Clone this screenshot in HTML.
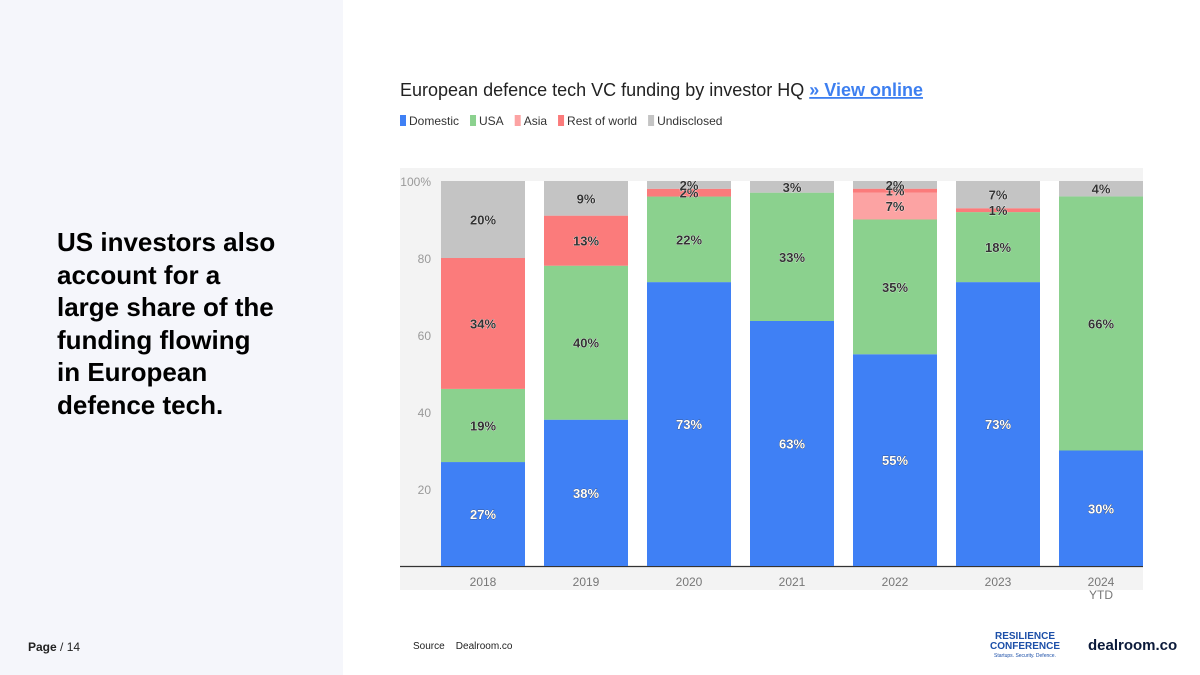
<!DOCTYPE html>
<html><head><meta charset="utf-8"><style>
body{margin:0;width:1200px;height:675px;position:relative;font-family:"Liberation Sans",sans-serif;background:#fff;overflow:hidden}
.left{position:absolute;left:0;top:0;width:343px;height:675px;background:#f5f6fb}
h1{position:absolute;left:57px;top:226px;margin:0;font-size:26px;line-height:32.5px;font-weight:bold;color:#000;white-space:nowrap}
.pg{position:absolute;left:28px;top:640px;font-size:12px;color:#222}
.src{position:absolute;left:413px;top:641px;font-size:10px;color:#222}
</style></head><body>
<div class="left"></div>
<h1>US investors also<br>account for a<br>large share of the<br>funding flowing<br>in European<br>defence tech.</h1>
<div class="pg"><b>Page</b> / 14</div>
<div class="src">Source &nbsp;&nbsp;&nbsp;Dealroom.co</div>
<div style="position:absolute;left:987px;top:632px;width:76px;color:#1c4fa8;font-weight:bold;font-size:10px;line-height:10px;text-align:center">RESILIENCE<br>CONFERENCE<div style="font-size:5px;line-height:8px;font-weight:normal">Startups. Security. Defence.</div></div>
<div style="position:absolute;left:1088px;top:637px;color:#0b1a3a;font-weight:bold;font-size:15px">dealroom.co</div>
<svg id="chart" width="1200" height="675" style="position:absolute;left:0;top:0">
<text x="400" y="96" font-size="18" fill="#222">European defence tech VC funding by investor HQ <tspan fill="#3d7ff0" font-weight="bold" text-decoration="underline">» View online</tspan></text>
<g id="legend"></g>
<rect x="400" y="168" width="743" height="422" fill="#f3f3f3"/>
<g id="grid"></g><g id="bars"></g><g id="labels"></g>
</svg>
<script>
const years=["2018","2019","2020","2021","2022","2023","2024"];
const domestic=[27,38,73,63,55,73,30];
const usa=[19,40,22,33,35,18,66];
const asia=[0,0,0,0,7,0,0];
const restOfWorld=[34,13,2,0,1,1,0];
const undisclosed=[20,9,2,3,2,7,4];
const yTicks=[20,40,60,80,100];
const seriesNames=["Domestic","USA","Asia","Rest of world","Undisclosed"];
const colors=["#3f80f5","#8bd18e","#fca3a3","#fb7b7b","#c4c4c4"];
const series=[domestic,usa,asia,restOfWorld,undisclosed];
const NS="http://www.w3.org/2000/svg";
const y0=566,y1=181,xL=400,xR=1143;
const ys=v=>y0-(y0-y1)*v/100;
const step=103,bw=84,bx=i=>441+i*step;
function mk(t,a,p){const e=document.createElementNS(NS,t);for(const k in a)e.setAttribute(k,a[k]);p.appendChild(e);return e;}
const G=document.getElementById('grid'),B=document.getElementById('bars'),L=document.getElementById('labels'),LG=document.getElementById('legend');
let lx=400;
seriesNames.forEach((n,i)=>{
 const r=mk('rect',{x:lx,y:115,width:6,height:11,fill:colors[i]},LG);
 
 
 const t=mk('text',{x:lx+9,y:125,'font-size':12,fill:'#333'},LG);t.textContent=n;
 
 
 lx+=9+t.getComputedTextLength()+11;
});
for(let i=0;i<years.length-1;i++){
 const g=mk('rect',{x:bx(i)+bw,y:y1,width:step-bw,height:y0-y1,fill:'#fff'},G);
 
 
}
yTicks.forEach(v=>{
 const t=mk('text',{x:431,y:ys(v)+5,'font-size':12,fill:'#999','text-anchor':'end'},G);t.textContent=v===100?'100%':v;
 
 
});
mk('line',{x1:xL,x2:xR,y1:y0+0.5,y2:y0+0.5,stroke:'#333','stroke-width':1.2},G);
years.forEach((yr,i)=>{
 const tot=series.reduce((s,a)=>s+a[i],0);
 let acc=0;
 series.forEach((a,k)=>{
  const v=a[i]*100/tot;if(v<=0)return;
  const top=ys(acc+v),bot=ys(acc);
  const r=mk('rect',{x:bx(i),y:top,width:bw,height:bot-top,fill:colors[k]},B);
  
  
  const t=mk('text',{x:bx(i)+bw/2,y:(top+bot)/2+5,'font-size':13,'font-weight':'bold','text-anchor':'middle',fill:(k===0?'#fff':'#333'),stroke:(k===0?'#333':'#fff'),'stroke-width':0.5,'paint-order':'stroke'},L);
  t.textContent=a[i]+'%';
  
  
  acc+=v;
 });
 const t=mk('text',{x:bx(i)+bw/2,y:586,'font-size':12,fill:'#777','text-anchor':'middle'},L);t.textContent=yr;
 
 
 if(yr==='2024'){const s=mk('text',{x:bx(i)+bw/2,y:599,'font-size':12,fill:'#777','text-anchor':'middle'},L);s.textContent='YTD';
 
 }
});
</script>
</body></html>
